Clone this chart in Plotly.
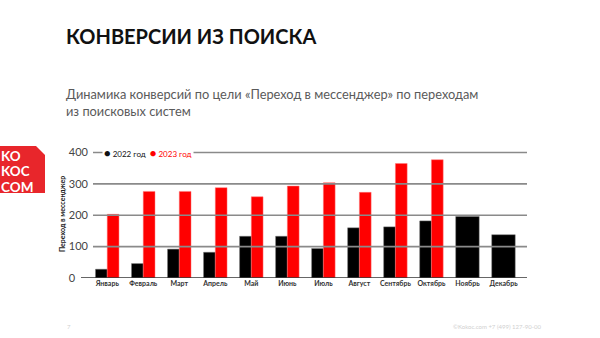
import plotly.graph_objects as go

months = ["Январь", "Февраль", "Март", "Апрель", "Май", "Июнь", "Июль",
          "Август", "Сентябрь", "Октябрь", "Ноябрь", "Декабрь"]
values_2022 = [28, 46, 92, 82, 133, 133, 94, 160, 163, 182, 196, 138]
values_2023 = [203, 276, 276, 288, 259, 293, 304, 273, 365, 377, None, None]
y_tick_vals = [0, 100, 200, 300, 400]
y_tick_text = ["0\u2007\u2007", "100", "200", "300", "400"]

W, H = 600, 338
L, R, T, B = 93, 73, 150, 60
PW, PH = W - L - R, H - T - B


def px(x):
    return (x - L) / PW


def py(y):
    return (H - B - y) / PH


half = 0.326
w22 = [half if v2 is not None else 2 * half for v2 in values_2023]
off22 = [-half for _ in months]

fig = go.Figure()
fig.add_trace(go.Bar(
    x=months, y=values_2022, width=w22, offset=off22,
    marker=dict(color="#000000", line=dict(color="rgba(120,120,120,0.6)", width=0.8)),
    showlegend=False, name="2022 год"))
fig.add_trace(go.Bar(
    x=months, y=values_2023, width=half, offset=0,
    marker=dict(color="#ff0000", line=dict(color="rgba(255,120,120,0.6)", width=0.8)),
    showlegend=False, name="2023 год"))

shapes = []
for v in y_tick_vals[1:]:
    shapes.append(dict(type="line", xref="paper", yref="y", x0=0, x1=1, y0=v, y1=v,
                       line=dict(color="#8a8a8a", width=1.6), layer="above"))
shapes.append(dict(type="line", xref="paper", yref="y", x0=px(81), x1=1, y0=0, y1=0,
                   line=dict(color="#333333", width=1.6), layer="above"))
# logo
shapes.append(dict(type="path", xref="paper", yref="paper",
                   path=f"M {px(0)} {py(146)} L {px(36)} {py(146)} L {px(45)} {py(155)} "
                        f"L {px(45)} {py(193)} L {px(0)} {py(193)} Z",
                   fillcolor="#e8262b", line=dict(width=0), layer="above"))

ann = []
ann.append(dict(text="КОНВЕРСИИ ИЗ ПОИСКА", xref="paper", yref="paper", x=px(64), y=py(36),
                xanchor="left", yanchor="middle", showarrow=False,
                font=dict(family="Lato", size=20, color="#111111", weight="bold")))
ann.append(dict(text="Динамика конверсий по цели «Переход в мессенджер» по переходам<br>из поисковых систем",
                xref="paper", yref="paper", x=px(64), y=py(102), xanchor="left", yanchor="middle",
                align="left", showarrow=False,
                font=dict(family="Lato", size=12.8, color="#5a5a5a")))
for txt, yc in [("KO", 155), ("KOC", 170.5), ("COM", 186)]:
    ann.append(dict(text=txt, xref="paper", yref="paper", x=px(-1), y=py(yc),
                    xanchor="left", yanchor="middle", showarrow=False, height=13,
                    font=dict(family="Lato", size=13.5, color="#ffffff", weight="bold")))
ann.append(dict(text="<span style='font-size:11px'>●</span> 2022 год  "
                     "<span style='color:#ff0000'><span style='font-size:11px'>●</span> 2023 год</span>",
                xref="paper", yref="y", x=px(102), y=400, xanchor="left", yanchor="middle",
                showarrow=False, bgcolor="#ffffff", borderpad=1,
                font=dict(family="Lato", size=8, color="#111111")))
ann.append(dict(text="Переход в мессенджер", xref="paper", yref="paper", x=px(62), y=0.5,
                xanchor="center", yanchor="middle", textangle=-90, showarrow=False,
                font=dict(family="Lato", size=7, color="#222222", weight="bold")))
ann.append(dict(text="7", xref="paper", yref="paper", x=px(65), y=py(326),
                xanchor="left", yanchor="middle", showarrow=False,
                font=dict(family="Lato", size=6, color="#d0d0d0")))
ann.append(dict(text="©Kokoc.com +7 (499) 127-90-00", xref="paper", yref="paper", x=px(451), y=py(326),
                xanchor="left", yanchor="middle", showarrow=False,
                font=dict(family="Lato", size=6, color="#d0d0d0")))

fig.update_layout(
    width=W, height=H, margin=dict(l=L, r=R, t=T, b=B),
    paper_bgcolor="#ffffff", plot_bgcolor="#ffffff",
    barmode="overlay", showlegend=False,
    shapes=shapes, annotations=ann,
    xaxis=dict(type="category", range=[-0.395, 11.653], showgrid=False, zeroline=False,
               showline=False, ticks="",
               tickfont=dict(family="Lato", size=7, color="#333333", weight="bold")),
    yaxis=dict(range=[0, 408], tickvals=y_tick_vals, ticktext=y_tick_text,
               showgrid=False, zeroline=False, showline=False, ticks="",
               ticklabelstandoff=4,
               tickfont=dict(family="Lato", size=11, color="#444444")),
)

fig.write_html("out.html")
